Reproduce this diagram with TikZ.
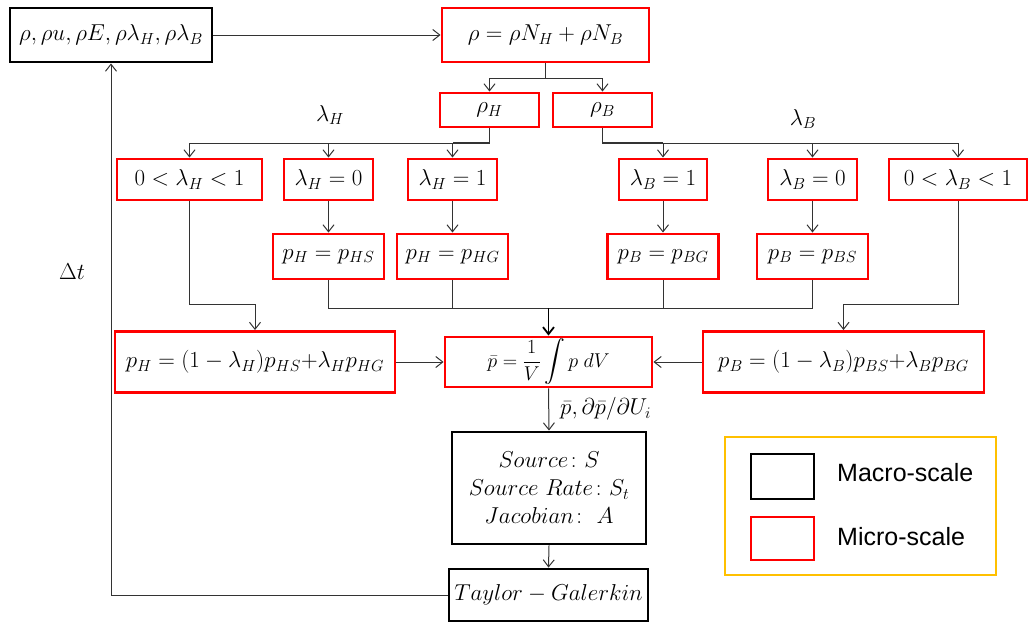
\documentclass[tikz,border=0pt]{standalone}
\usepackage{fix-cm}
\usepackage{amsmath}
\usepackage{fontspec}
\newfontfamily\lsans{Liberation Sans}
\usetikzlibrary{arrows.meta}
\begin{document}
\begin{tikzpicture}[x=1pt,y=-1pt,
  every node/.style={font=\fontsize{23}{27}\selectfont},
  bx/.style={draw, line width=2.9pt, inner sep=0pt, anchor=center},
  macro/.style={bx, draw=black},
  micro/.style={bx, draw=red},
  conn/.style={draw=black!80, line width=1pt},
  arr/.style={conn, -{Straight Barb[length=7pt,width=11pt]}},
  lbl/.style={inner sep=1pt}]
\useasboundingbox (0,0) rectangle (1030,624);
% nodes
\node[macro, minimum width=202, minimum height=54] (state) at (111,35) {$\rho,\rho u,\rho E,\rho\lambda_H,\rho\lambda_B$};
\node[micro, minimum width=207, minimum height=54] (rho) at (545.5,35) {$\rho=\rho N_H+\rho N_B$};
\node[micro, minimum width=99, minimum height=34] (rhoH) at (489.5,110) {$\rho_H$};
\node[micro, minimum width=99, minimum height=34] (rhoB) at (602.5,110) {$\rho_B$};
\node[micro, minimum width=145, minimum height=41] (lH01) at (189.5,179.5) {$0<\lambda_H<1$};
\node[micro, minimum width=89, minimum height=41] (lH0) at (328.5,179.5) {$\lambda_H=0$};
\node[micro, minimum width=89, minimum height=41] (lH1) at (452.5,179.5) {$\lambda_H=1$};
\node[micro, minimum width=88, minimum height=41] (lB1) at (663,179.5) {$\lambda_B=1$};
\node[micro, minimum width=89, minimum height=41] (lB0) at (812.5,179.5) {$\lambda_B=0$};
\node[micro, minimum width=138, minimum height=41] (lB01) at (958,179.5) {$0<\lambda_B<1$};
\node[micro, minimum width=111, minimum height=45] (pHS) at (328.5,256.5) {$p_H=p_{HS}$};
\node[micro, minimum width=111, minimum height=45] (pHG) at (452.5,256.5) {$p_H=p_{HG}$};
\node[micro, minimum width=111, minimum height=45] (pBG) at (663,256.5) {$p_B=p_{BG}$};
\node[micro, minimum width=111, minimum height=45] (pBS) at (812.5,256.5) {$p_B=p_{BS}$};
\node[micro, minimum width=280, minimum height=61] (pHmix) at (255,362) {$p_H=(1-\lambda_H)p_{HS}{+}\lambda_H p_{HG}$};
\node[micro, minimum width=207, minimum height=50, font=\fontsize{20}{24}\selectfont] (pbar) at (548.5,362) {$\bar p=\dfrac{1}{V}\displaystyle\int p\;dV$};
\node[micro, minimum width=281, minimum height=61] (pBmix) at (843.5,362) {$p_B=(1-\lambda_B)p_{BS}{+}\lambda_B p_{BG}$};
\node[macro, minimum width=194, minimum height=112, align=center] (src) at (549,488) {$Source\colon S$\\[1pt]$Source\ Rate\colon S_t$\\[1pt]$Jacobian\colon\ A$};
\node[macro, minimum width=199, minimum height=52] (tg) at (548.5,595) {$Taylor-Galerkin$};
\node[lbl] (lamH) at (330,115) {$\lambda_H$};
\node[lbl] (lamB) at (803,119) {$\lambda_B$};
\node[lbl] (dt) at (72,272) {$\Delta t$};
% connectors
\draw[arr] (state.east) -- (rho.west);
\coordinate (j1) at (545.5,78);
\draw[conn] (rho.south) -- (j1);
\draw[arr] (j1) -| (rhoH.north);
\draw[arr] (j1) -| (rhoB.north);
\coordinate (j2) at (489.5,143);
\coordinate (j3) at (602.5,143);
\draw[conn, line width=1.6pt] (rhoH.south) -- (j2) -- (452.5,143);
\draw[conn, line width=1.6pt] (rhoB.south) -- (j3) -- (663,143);
\draw[arr] (j2) -| (lH01.north);
\draw[arr] (j2) -| (lH0.north);
\draw[arr] (j2) -| (lH1.north);
\draw[arr] (j3) -| (lB1.north);
\draw[arr] (j3) -| (lB0.north);
\draw[arr] (j3) -| (lB01.north);
\draw[arr] (lH0) -- (pHS);
\draw[arr] (lH1) -- (pHG);
\draw[arr] (lB1) -- (pBG);
\draw[arr] (lB0) -- (pBS);
\coordinate (a1) at (255,304);
\coordinate (a2) at (843.5,304);
\draw[arr] (lH01.south) |- (a1) -- (pHmix.north);
\draw[arr] (lB01.south) |- (a2) -- (pBmix.north);
\coordinate (m) at (548.5,308);
\draw[conn] (pHS.south) |- (m);
\draw[conn] (pHG.south) |- (m);
\draw[conn] (pBG.south) |- (m);
\draw[conn] (pBS.south) |- (m);
\draw[arr, line width=1.8pt, draw=black] (m) -- (pbar.north);
\draw[arr] (pHmix.east) -- (pbar.west);
\draw[arr] (pBmix.west) -- (pbar.east);
\draw[arr] (pbar.south) -- (src.north);
\node[lbl, anchor=west] (dlab) at (559,409) {$\bar p,\partial\bar p/\partial U_i$};
\draw[arr] (src.south) -- (tg.north);
\draw[arr] (tg.west) -| (state.south);
% legend
\node[draw={rgb,255:red,255;green,192;blue,0}, line width=2pt, minimum width=271, minimum height=138, inner sep=0pt] (leg) at (860.5,506) {};
\node[draw=black, line width=2pt, minimum width=63, minimum height=45, inner sep=0pt] (legM) at (782.5,476.5) {};
\node[draw=red, line width=2pt, minimum width=63, minimum height=43, inner sep=0pt] (legR) at (782.5,538.5) {};
\node[anchor=west, inner sep=0pt, font=\lsans\fontsize{25}{30}\selectfont] (tM) at (837,473) {Macro-scale};
\node[anchor=west, inner sep=0pt, font=\lsans\fontsize{25}{30}\selectfont] (tR) at (837,537) {Micro-scale};
\end{tikzpicture}
\end{document}
